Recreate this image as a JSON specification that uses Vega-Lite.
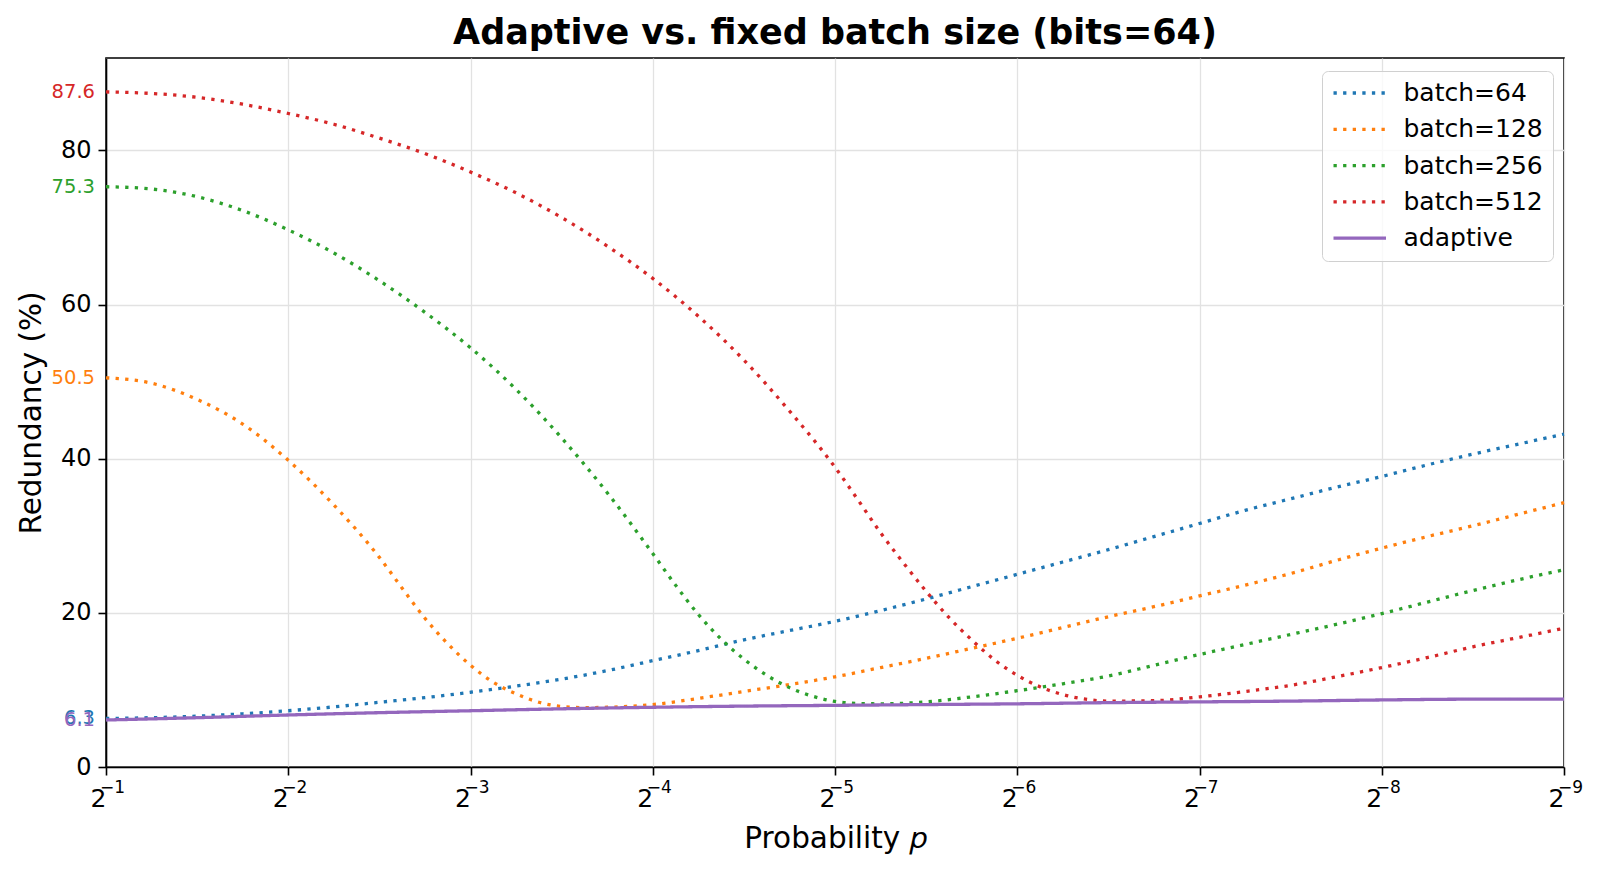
{
  "$schema": "https://vega.github.io/schema/vega-lite/v6.json",
  "width": 1458,
  "height": 709,
  "autosize": {"type": "none"},
  "padding": {"left": 106, "top": 58, "right": 38, "bottom": 107},
  "background": "white",
  "config": {
    "font": "DejaVu Sans",
    "view": {"stroke": "black", "strokeWidth": 1.6},
    "axis": {
      "grid": true,
      "gridColor": "#e2e2e2",
      "gridWidth": 1.3,
      "domainColor": "black",
      "domainWidth": 1.6,
      "tickColor": "black",
      "tickWidth": 1.6,
      "tickSize": 8,
      "labelColor": "black",
      "labelFontSize": 24,
      "labelFont": "DejaVu Sans",
      "titleColor": "black",
      "titleFont": "DejaVu Sans",
      "titleFontSize": 29.5,
      "titleFontWeight": "normal"
    }
  },
  "title": {
    "text": "Adaptive vs. fixed batch size (bits=64)",
    "fontSize": 35,
    "fontWeight": "bold",
    "font": "DejaVu Sans",
    "color": "black",
    "anchor": "middle",
    "baseline": "alphabetic",
    "offset": 13,
    "dy": 34
  },
  "datasets": {
    "curves": [
      {"series": "batch=64", "neg_log2_p": 1, "redundancy": 6.3},
      {"series": "batch=64", "neg_log2_p": 1.25, "redundancy": 6.4},
      {"series": "batch=64", "neg_log2_p": 1.5, "redundancy": 6.6},
      {"series": "batch=64", "neg_log2_p": 1.75, "redundancy": 6.9},
      {"series": "batch=64", "neg_log2_p": 2, "redundancy": 7.3},
      {"series": "batch=64", "neg_log2_p": 2.25, "redundancy": 7.8},
      {"series": "batch=64", "neg_log2_p": 2.5, "redundancy": 8.4},
      {"series": "batch=64", "neg_log2_p": 2.75, "redundancy": 9.0},
      {"series": "batch=64", "neg_log2_p": 3, "redundancy": 9.7},
      {"series": "batch=64", "neg_log2_p": 3.25, "redundancy": 10.5},
      {"series": "batch=64", "neg_log2_p": 3.5, "redundancy": 11.4},
      {"series": "batch=64", "neg_log2_p": 3.75, "redundancy": 12.5},
      {"series": "batch=64", "neg_log2_p": 4, "redundancy": 13.8},
      {"series": "batch=64", "neg_log2_p": 4.25, "redundancy": 15.1},
      {"series": "batch=64", "neg_log2_p": 4.5, "redundancy": 16.5},
      {"series": "batch=64", "neg_log2_p": 4.75, "redundancy": 17.7},
      {"series": "batch=64", "neg_log2_p": 5, "redundancy": 18.9},
      {"series": "batch=64", "neg_log2_p": 5.25, "redundancy": 20.3},
      {"series": "batch=64", "neg_log2_p": 5.5, "redundancy": 21.8},
      {"series": "batch=64", "neg_log2_p": 5.75, "redundancy": 23.4},
      {"series": "batch=64", "neg_log2_p": 6, "redundancy": 25.0},
      {"series": "batch=64", "neg_log2_p": 6.25, "redundancy": 26.6},
      {"series": "batch=64", "neg_log2_p": 6.5, "redundancy": 28.2},
      {"series": "batch=64", "neg_log2_p": 6.75, "redundancy": 29.9},
      {"series": "batch=64", "neg_log2_p": 7, "redundancy": 31.6},
      {"series": "batch=64", "neg_log2_p": 7.25, "redundancy": 33.3},
      {"series": "batch=64", "neg_log2_p": 7.5, "redundancy": 34.8},
      {"series": "batch=64", "neg_log2_p": 7.75, "redundancy": 36.3},
      {"series": "batch=64", "neg_log2_p": 8, "redundancy": 37.7},
      {"series": "batch=64", "neg_log2_p": 8.25, "redundancy": 39.2},
      {"series": "batch=64", "neg_log2_p": 8.5, "redundancy": 40.6},
      {"series": "batch=64", "neg_log2_p": 8.75, "redundancy": 41.9},
      {"series": "batch=64", "neg_log2_p": 9, "redundancy": 43.2},

      {"series": "batch=128", "neg_log2_p": 1, "redundancy": 50.5},
      {"series": "batch=128", "neg_log2_p": 1.25, "redundancy": 49.8},
      {"series": "batch=128", "neg_log2_p": 1.5, "redundancy": 47.7},
      {"series": "batch=128", "neg_log2_p": 1.75, "redundancy": 44.5},
      {"series": "batch=128", "neg_log2_p": 2, "redundancy": 39.8},
      {"series": "batch=128", "neg_log2_p": 2.25, "redundancy": 34.0},
      {"series": "batch=128", "neg_log2_p": 2.5, "redundancy": 27.2},
      {"series": "batch=128", "neg_log2_p": 2.625, "redundancy": 23.2},
      {"series": "batch=128", "neg_log2_p": 2.75, "redundancy": 19.3},
      {"series": "batch=128", "neg_log2_p": 2.875, "redundancy": 16.0},
      {"series": "batch=128", "neg_log2_p": 3, "redundancy": 13.2},
      {"series": "batch=128", "neg_log2_p": 3.125, "redundancy": 11.0},
      {"series": "batch=128", "neg_log2_p": 3.25, "redundancy": 9.5},
      {"series": "batch=128", "neg_log2_p": 3.375, "redundancy": 8.4},
      {"series": "batch=128", "neg_log2_p": 3.5, "redundancy": 7.85},
      {"series": "batch=128", "neg_log2_p": 3.625, "redundancy": 7.7},
      {"series": "batch=128", "neg_log2_p": 3.75, "redundancy": 7.75},
      {"series": "batch=128", "neg_log2_p": 4, "redundancy": 8.1},
      {"series": "batch=128", "neg_log2_p": 4.25, "redundancy": 8.9},
      {"series": "batch=128", "neg_log2_p": 4.5, "redundancy": 9.8},
      {"series": "batch=128", "neg_log2_p": 4.75, "redundancy": 10.7},
      {"series": "batch=128", "neg_log2_p": 5, "redundancy": 11.7},
      {"series": "batch=128", "neg_log2_p": 5.25, "redundancy": 12.9},
      {"series": "batch=128", "neg_log2_p": 5.5, "redundancy": 14.1},
      {"series": "batch=128", "neg_log2_p": 5.75, "redundancy": 15.4},
      {"series": "batch=128", "neg_log2_p": 6, "redundancy": 16.7},
      {"series": "batch=128", "neg_log2_p": 6.25, "redundancy": 18.1},
      {"series": "batch=128", "neg_log2_p": 6.5, "redundancy": 19.5},
      {"series": "batch=128", "neg_log2_p": 6.75, "redundancy": 20.8},
      {"series": "batch=128", "neg_log2_p": 7, "redundancy": 22.2},
      {"series": "batch=128", "neg_log2_p": 7.25, "redundancy": 23.6},
      {"series": "batch=128", "neg_log2_p": 7.5, "redundancy": 25.1},
      {"series": "batch=128", "neg_log2_p": 7.75, "redundancy": 26.8},
      {"series": "batch=128", "neg_log2_p": 8, "redundancy": 28.4},
      {"series": "batch=128", "neg_log2_p": 8.25, "redundancy": 29.9},
      {"series": "batch=128", "neg_log2_p": 8.5, "redundancy": 31.3},
      {"series": "batch=128", "neg_log2_p": 8.75, "redundancy": 32.8},
      {"series": "batch=128", "neg_log2_p": 9, "redundancy": 34.3},

      {"series": "batch=256", "neg_log2_p": 1, "redundancy": 75.3},
      {"series": "batch=256", "neg_log2_p": 1.25, "redundancy": 75.0},
      {"series": "batch=256", "neg_log2_p": 1.5, "redundancy": 74.0},
      {"series": "batch=256", "neg_log2_p": 1.75, "redundancy": 72.2},
      {"series": "batch=256", "neg_log2_p": 2, "redundancy": 69.7},
      {"series": "batch=256", "neg_log2_p": 2.25, "redundancy": 66.7},
      {"series": "batch=256", "neg_log2_p": 2.5, "redundancy": 63.1},
      {"series": "batch=256", "neg_log2_p": 2.75, "redundancy": 59.0},
      {"series": "batch=256", "neg_log2_p": 3, "redundancy": 54.4},
      {"series": "batch=256", "neg_log2_p": 3.25, "redundancy": 49.0},
      {"series": "batch=256", "neg_log2_p": 3.5, "redundancy": 42.7},
      {"series": "batch=256", "neg_log2_p": 3.75, "redundancy": 35.6},
      {"series": "batch=256", "neg_log2_p": 4, "redundancy": 27.7},
      {"series": "batch=256", "neg_log2_p": 4.125, "redundancy": 23.6},
      {"series": "batch=256", "neg_log2_p": 4.25, "redundancy": 19.8},
      {"series": "batch=256", "neg_log2_p": 4.375, "redundancy": 16.6},
      {"series": "batch=256", "neg_log2_p": 4.5, "redundancy": 14.0},
      {"series": "batch=256", "neg_log2_p": 4.625, "redundancy": 11.9},
      {"series": "batch=256", "neg_log2_p": 4.75, "redundancy": 10.3},
      {"series": "batch=256", "neg_log2_p": 4.875, "redundancy": 9.2},
      {"series": "batch=256", "neg_log2_p": 5, "redundancy": 8.5},
      {"series": "batch=256", "neg_log2_p": 5.125, "redundancy": 8.25},
      {"series": "batch=256", "neg_log2_p": 5.25, "redundancy": 8.2},
      {"series": "batch=256", "neg_log2_p": 5.5, "redundancy": 8.45},
      {"series": "batch=256", "neg_log2_p": 5.75, "redundancy": 9.1},
      {"series": "batch=256", "neg_log2_p": 6, "redundancy": 9.9},
      {"series": "batch=256", "neg_log2_p": 6.25, "redundancy": 10.8},
      {"series": "batch=256", "neg_log2_p": 6.5, "redundancy": 11.8},
      {"series": "batch=256", "neg_log2_p": 6.75, "redundancy": 13.2},
      {"series": "batch=256", "neg_log2_p": 7, "redundancy": 14.6},
      {"series": "batch=256", "neg_log2_p": 7.25, "redundancy": 15.9},
      {"series": "batch=256", "neg_log2_p": 7.5, "redundancy": 17.2},
      {"series": "batch=256", "neg_log2_p": 7.75, "redundancy": 18.5},
      {"series": "batch=256", "neg_log2_p": 8, "redundancy": 19.9},
      {"series": "batch=256", "neg_log2_p": 8.25, "redundancy": 21.4},
      {"series": "batch=256", "neg_log2_p": 8.5, "redundancy": 22.9},
      {"series": "batch=256", "neg_log2_p": 8.75, "redundancy": 24.3},
      {"series": "batch=256", "neg_log2_p": 9, "redundancy": 25.6},

      {"series": "batch=512", "neg_log2_p": 1, "redundancy": 87.6},
      {"series": "batch=512", "neg_log2_p": 1.25, "redundancy": 87.4},
      {"series": "batch=512", "neg_log2_p": 1.5, "redundancy": 86.9},
      {"series": "batch=512", "neg_log2_p": 1.75, "redundancy": 86.0},
      {"series": "batch=512", "neg_log2_p": 2, "redundancy": 84.8},
      {"series": "batch=512", "neg_log2_p": 2.25, "redundancy": 83.4},
      {"series": "batch=512", "neg_log2_p": 2.5, "redundancy": 81.6},
      {"series": "batch=512", "neg_log2_p": 2.75, "redundancy": 79.6},
      {"series": "batch=512", "neg_log2_p": 3, "redundancy": 77.2},
      {"series": "batch=512", "neg_log2_p": 3.25, "redundancy": 74.5},
      {"series": "batch=512", "neg_log2_p": 3.5, "redundancy": 71.3},
      {"series": "batch=512", "neg_log2_p": 3.75, "redundancy": 67.6},
      {"series": "batch=512", "neg_log2_p": 4, "redundancy": 63.4},
      {"series": "batch=512", "neg_log2_p": 4.25, "redundancy": 58.5},
      {"series": "batch=512", "neg_log2_p": 4.5, "redundancy": 52.8},
      {"series": "batch=512", "neg_log2_p": 4.75, "redundancy": 46.2},
      {"series": "batch=512", "neg_log2_p": 5, "redundancy": 38.9},
      {"series": "batch=512", "neg_log2_p": 5.125, "redundancy": 34.7},
      {"series": "batch=512", "neg_log2_p": 5.25, "redundancy": 30.4},
      {"series": "batch=512", "neg_log2_p": 5.375, "redundancy": 26.5},
      {"series": "batch=512", "neg_log2_p": 5.5, "redundancy": 22.8},
      {"series": "batch=512", "neg_log2_p": 5.625, "redundancy": 19.4},
      {"series": "batch=512", "neg_log2_p": 5.75, "redundancy": 16.5},
      {"series": "batch=512", "neg_log2_p": 5.875, "redundancy": 13.9},
      {"series": "batch=512", "neg_log2_p": 6, "redundancy": 11.9},
      {"series": "batch=512", "neg_log2_p": 6.125, "redundancy": 10.4},
      {"series": "batch=512", "neg_log2_p": 6.25, "redundancy": 9.4},
      {"series": "batch=512", "neg_log2_p": 6.375, "redundancy": 8.8},
      {"series": "batch=512", "neg_log2_p": 6.5, "redundancy": 8.55},
      {"series": "batch=512", "neg_log2_p": 6.75, "redundancy": 8.6},
      {"series": "batch=512", "neg_log2_p": 7, "redundancy": 9.1},
      {"series": "batch=512", "neg_log2_p": 7.25, "redundancy": 9.8},
      {"series": "batch=512", "neg_log2_p": 7.5, "redundancy": 10.6},
      {"series": "batch=512", "neg_log2_p": 7.75, "redundancy": 11.7},
      {"series": "batch=512", "neg_log2_p": 8, "redundancy": 12.9},
      {"series": "batch=512", "neg_log2_p": 8.25, "redundancy": 14.2},
      {"series": "batch=512", "neg_log2_p": 8.5, "redundancy": 15.6},
      {"series": "batch=512", "neg_log2_p": 8.75, "redundancy": 16.8},
      {"series": "batch=512", "neg_log2_p": 9, "redundancy": 18.0},

      {"series": "adaptive", "neg_log2_p": 1, "redundancy": 6.1},
      {"series": "adaptive", "neg_log2_p": 1.5, "redundancy": 6.4},
      {"series": "adaptive", "neg_log2_p": 2, "redundancy": 6.75},
      {"series": "adaptive", "neg_log2_p": 2.5, "redundancy": 7.05},
      {"series": "adaptive", "neg_log2_p": 3, "redundancy": 7.3},
      {"series": "adaptive", "neg_log2_p": 3.5, "redundancy": 7.55},
      {"series": "adaptive", "neg_log2_p": 4, "redundancy": 7.75},
      {"series": "adaptive", "neg_log2_p": 4.5, "redundancy": 7.9},
      {"series": "adaptive", "neg_log2_p": 5, "redundancy": 8.0},
      {"series": "adaptive", "neg_log2_p": 5.5, "redundancy": 8.1},
      {"series": "adaptive", "neg_log2_p": 6, "redundancy": 8.2},
      {"series": "adaptive", "neg_log2_p": 6.5, "redundancy": 8.35},
      {"series": "adaptive", "neg_log2_p": 7, "redundancy": 8.45},
      {"series": "adaptive", "neg_log2_p": 7.5, "redundancy": 8.55},
      {"series": "adaptive", "neg_log2_p": 8, "redundancy": 8.7},
      {"series": "adaptive", "neg_log2_p": 8.5, "redundancy": 8.8},
      {"series": "adaptive", "neg_log2_p": 9, "redundancy": 8.8}
    ],
    "labels": [
      {"series": "batch=64", "neg_log2_p": 1, "redundancy": 6.3, "label": "6.3"},
      {"series": "batch=128", "neg_log2_p": 1, "redundancy": 50.5, "label": "50.5"},
      {"series": "batch=256", "neg_log2_p": 1, "redundancy": 75.3, "label": "75.3"},
      {"series": "batch=512", "neg_log2_p": 1, "redundancy": 87.6, "label": "87.6"},
      {"series": "adaptive", "neg_log2_p": 1, "redundancy": 6.1, "label": "6.1"}
    ],
    "exponents": [
      {"neg_log2_p": 1, "exponent": "−1"},
      {"neg_log2_p": 2, "exponent": "−2"},
      {"neg_log2_p": 3, "exponent": "−3"},
      {"neg_log2_p": 4, "exponent": "−4"},
      {"neg_log2_p": 5, "exponent": "−5"},
      {"neg_log2_p": 6, "exponent": "−6"},
      {"neg_log2_p": 7, "exponent": "−7"},
      {"neg_log2_p": 8, "exponent": "−8"},
      {"neg_log2_p": 9, "exponent": "−9"}
    ]
  },
  "layer": [
    {
      "data": {"name": "curves"},
      "mark": {"type": "line", "strokeWidth": 3.3, "interpolate": "monotone", "strokeCap": "butt"},
      "encoding": {
        "x": {
          "field": "neg_log2_p",
          "type": "quantitative",
          "scale": {"domain": [1, 9], "nice": false, "zero": false},
          "axis": {
            "values": [1, 2, 3, 4, 5, 6, 7, 8, 9],
            "labelExpr": "'2'",
            "labelAlign": "right",
            "labelDx": -7,
            "labelFontSize": 25,
            "labelPadding": 11,
            "title": "Probability 𝑝",
            "titleX": 729,
            "titleY": 71,
            "titleBaseline": "middle",
            "titleAnchor": null
          }
        },
        "y": {
          "field": "redundancy",
          "type": "quantitative",
          "scale": {"domain": [0, 92], "nice": false},
          "axis": {
            "values": [0, 20, 40, 60, 80],
            "labelPadding": 7,
            "title": "Redundancy (%)",
            "titleX": -75,
            "titleY": 354.5,
            "titleAngle": -90,
            "titleBaseline": "middle",
            "titleAlign": "center"
          }
        },
        "color": {
          "field": "series",
          "type": "nominal",
          "scale": {
            "domain": ["batch=64", "batch=128", "batch=256", "batch=512", "adaptive"],
            "range": ["#1f77b4", "#ff7f0e", "#2ca02c", "#d62728", "#9467bd"]
          },
          "legend": {
            "title": null,
            "orient": "none",
            "legendX": 1216,
            "legendY": 13,
            "symbolType": "M-1,0H4",
            "symbolSize": 441,
            "symbolStrokeWidth": 3.3,
            "labelFontSize": 25,
            "labelFont": "DejaVu Sans",
            "labelColor": "black",
            "labelOffset": 47,
            "rowPadding": 10.3,
            "padding": 9.5,
            "strokeColor": "#d0d0d0",
            "cornerRadius": 6,
            "fillColor": "rgba(255,255,255,0.8)"
          }
        },
        "strokeDash": {
          "field": "series",
          "type": "nominal",
          "scale": {
            "domain": ["batch=64", "batch=128", "batch=256", "batch=512", "adaptive"],
            "range": [[3.3, 6.3], [3.3, 6.3], [3.3, 6.3], [3.3, 6.3], [1, 0]]
          },
          "legend": {"title": null}
        }
      }
    },
    {
      "data": {"name": "labels"},
      "mark": {"type": "text", "align": "right", "baseline": "middle", "dx": -11, "fontSize": 19.5, "font": "DejaVu Sans"},
      "encoding": {
        "x": {"field": "neg_log2_p", "type": "quantitative"},
        "y": {"field": "redundancy", "type": "quantitative"},
        "text": {"field": "label"},
        "color": {"field": "series", "type": "nominal", "legend": null}
      }
    },
    {
      "data": {"name": "exponents"},
      "mark": {"type": "text", "align": "left", "baseline": "middle", "dx": -6, "dy": 21, "fontSize": 17, "font": "DejaVu Sans", "color": "black"},
      "encoding": {
        "x": {"field": "neg_log2_p", "type": "quantitative"},
        "y": {"datum": 0, "type": "quantitative"},
        "text": {"field": "exponent"}
      }
    }
  ]
}
